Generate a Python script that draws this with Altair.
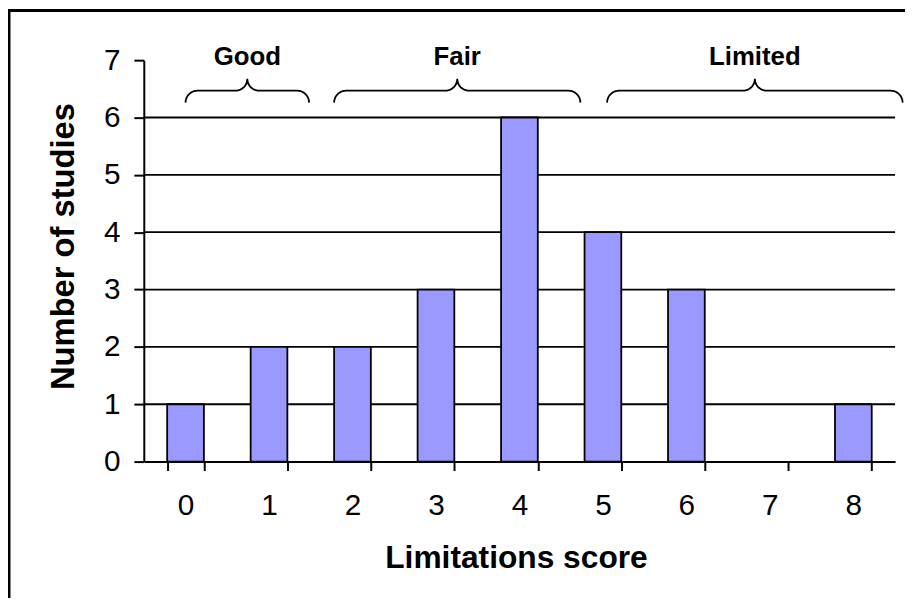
import altair as alt
import pandas as pd
import numpy as np

# ---- data ----
scores = [0, 1, 2, 3, 4, 5, 6, 7, 8]
counts = [1, 2, 2, 3, 6, 4, 3, 0, 1]
y_ticks = [0, 1, 2, 3, 4, 5, 6, 7]
grid_values = [1, 2, 3, 4, 5, 6]
groups = ["Good", "Fair", "Limited"]
group_start = [0.0, 1.78, 5.05]
group_end = [1.48, 4.73, 8.59]
brace_base = 6.26

FONT = "Liberation Sans"
W, H = 758, 405
X_DOMAIN = [-0.5, 8.5]
Y_DOMAIN = [0, 7]
PX_X = W / (X_DOMAIN[1] - X_DOMAIN[0])
PX_Y = H / (Y_DOMAIN[1] - Y_DOMAIN[0])

# ---- brace geometry (built from the group extents) ----
def brace_points(x0, x1, base, r=12.0, r2=12.0, n=12):
    xm = (x0 + x1) / 2
    pts = []
    t = np.linspace(0, np.pi / 2, n)
    for a in t:
        pts.append((x0 + r * (1 - np.cos(a)) / PX_X, base + r * np.sin(a) / PX_Y))
    for a in t:
        pts.append((xm - r2 / PX_X + r2 * np.sin(a) / PX_X,
                    base + (r + r2 * (1 - np.cos(a))) / PX_Y))
    right = [(2 * xm - px, py) for px, py in reversed(pts)]
    return pts + right

rows = []
for g, s, e in zip(groups, group_start, group_end):
    for i, (bx, by) in enumerate(brace_points(s, e, brace_base)):
        rows.append({"group": g, "i": i, "bx": bx, "by": by})
brace_df = pd.DataFrame(rows)

label_df = pd.DataFrame({
    "group": groups,
    "lx": [(s + e) / 2 for s, e in zip(group_start, group_end)],
    "ly": [brace_base + 24 / PX_Y] * len(groups),
})

bar_df = pd.DataFrame({"score": scores, "count": counts})
grid_df = pd.DataFrame({"count": grid_values})

y_scale = alt.Scale(domain=Y_DOMAIN, nice=False, zero=True)
xq_scale = alt.Scale(domain=X_DOMAIN, nice=False, zero=False)

y_axis = alt.Axis(
    title=None, values=y_ticks, grid=False, tickSize=10, tickWidth=2,
    tickColor="black", domainColor="black", domainWidth=2,
    labelFont=FONT, labelFontSize=30, labelColor="black", labelPadding=14,
)

grid = alt.Chart(grid_df).mark_rule(color="black", strokeWidth=1.8).encode(
    y=alt.Y("count:Q", scale=y_scale, axis=y_axis)
)

bars = alt.Chart(bar_df).transform_filter(alt.datum.count > 0).mark_bar(
    fill="#9999FF", stroke="black", strokeWidth=1.8
).encode(
    x=alt.X(
        "score:O",
        scale=alt.Scale(domain=scores, paddingInner=0.56, paddingOuter=0.28),
        axis=alt.Axis(
            title=None, labelAngle=0, tickBand="extent", tickSize=9, tickWidth=2,
            tickColor="black", domainColor="black", domainWidth=2,
            labelFont=FONT, labelFontSize=30, labelColor="black", labelPadding=20,
        ),
    ),
    y=alt.Y("count:Q", scale=y_scale, axis=y_axis),
)

braces = alt.Chart(brace_df).mark_line(color="black", strokeWidth=1.8, clip=False).encode(
    x=alt.X("bx:Q", scale=xq_scale, axis=None),
    y=alt.Y("by:Q", scale=y_scale, axis=y_axis),
    detail="group:N",
    order="i:Q",
)

labels = alt.Chart(label_df).mark_text(
    font=FONT, fontSize=26, fontWeight="bold", color="black",
    baseline="alphabetic", dy=-14, clip=False,
).encode(
    x=alt.X("lx:Q", scale=xq_scale, axis=None),
    y=alt.Y("ly:Q", scale=y_scale, axis=y_axis),
    text="group:N",
)

title_df = pd.DataFrame({"t": ["Limitations score"], "yt": ["Number of studies"]})

x_title = alt.Chart(title_df).mark_text(
    font=FONT, fontSize=32, fontWeight="bold", color="black",
    baseline="alphabetic", align="center",
).encode(x=alt.value(376), y=alt.value(512), text="t:N")

y_title = alt.Chart(title_df).mark_text(
    font=FONT, fontSize=33, fontWeight="bold", color="black",
    baseline="alphabetic", align="center", angle=270,
).encode(x=alt.value(-70), y=alt.value(188), text="yt:N")

border = alt.Chart(title_df).mark_rect(
    fill=None, fillOpacity=0, stroke="black", strokeWidth=3, clip=False
).encode(
    x=alt.value(-136), x2=alt.value(1000), y=alt.value(-50), y2=alt.value(700)
)

chart = alt.layer(grid, bars, braces, labels, x_title, y_title, border).resolve_scale(
    x="independent"
).properties(
    width=W, height=H,
    autosize=alt.AutoSizeParams(type="none"),
    padding={"left": 137, "top": 50, "right": 10, "bottom": 135},
).configure(background="white", view=alt.ViewConfig(stroke=None))

chart.save("out.html", embed_options={"renderer": "svg", "actions": False})
